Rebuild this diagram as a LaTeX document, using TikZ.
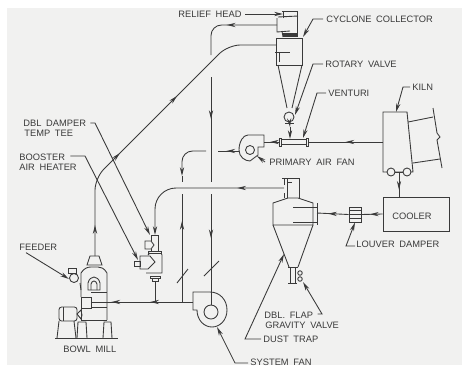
\documentclass[tikz,border=0pt]{standalone}
\usepackage{fontspec}
\setmainfont[WordSpace=1.8]{Liberation Sans}
\usepackage{xcolor}
\usetikzlibrary{positioning,arrows.meta,calc,decorations.markings}

\definecolor{paper}{HTML}{F1F1F0}
\definecolor{ink}{HTML}{3A3A3A}

\begin{document}
\begin{tikzpicture}[x=.02cm, y=-.02cm, >={Stealth[length=5pt,width=2.4pt]},
    line width=.5pt, color=ink,
    lbl/.style={text=ink, font=\fontsize{5.3}{6}\selectfont, anchor=west, inner sep=0pt},
    wheel/.style={draw, circle, inner sep=0pt},
    leader/.style={->},
    flowmark/.style={postaction={decorate, decoration={markings, mark=at position #1 with {\arrow{>}}}}}]
  \fill[white] (0,0) rectangle (462,365);
  \fill[paper] (7,8) rectangle (462,365);
  \clip (0,0) rectangle (462,365);

  % cyclone and relief head
  \draw (283,18) -- (283,11) -- (297,11) -- (297,35) (282,11) -- (298,11);
  \draw (278,17) -- (298,16) (277,18) -- (277,32) -- (290,31) (282,31) -- (283,37);
  \fill (283,33) rectangle (298,37);
  \draw (276,38) -- (302,38) -- (302,65) -- (276,65) -- cycle;
  \draw (275,52) -- (290,52) (279,52) -- (279,62);
  \draw (278,65) -- (287,108) (302,65) -- (292,108);
  \coordinate (cycout) at (277,25);
  \coordinate (cycin) at (276,45);
  \coordinate (relief) at (283,14);
  \coordinate (cyctop) at (303,37);

  % rotary valve, venturi
  \node[wheel, minimum size=.2cm] (rotary) at (289,117) {};
  \draw (285,123) -- (294,123);
  \draw (279,138) rectangle (281,146) (306,138) rectangle (308,146);
  \draw (281,139.5) -- (306,139.5) (281,144.5) -- (306,144.5);
  \coordinate (ventop) at (290,139);
  \coordinate (venl) at (279,142);
  \coordinate (venr) at (308,142);
  \coordinate (venlead) at (303,138);
  \draw[->] (rotary) -- (290,127);
  \draw[->] (290,127) -- (ventop);

  % primary air fan
  \draw (258,155) -- (258,147) -- (264,147) -- (264,135) -- (248,135)
        .. controls (243,135) and (239,142) .. (239,150)
        .. controls (239,157) and (245,161) .. (250,161) -- (258,155);
  \node[wheel, minimum size=.18cm] (pafan) at (250,150) {};
  \coordinate (pafanin) at (264,142);
  \coordinate (pafanout) at (239,151);

  % kiln
  \draw (383,172) -- (383,112) -- (407,112) -- (413,172) -- cycle;
  \draw (408,122) -- (433,117) (413,163) -- (440,159);
  \draw (433,108) -- (437,133) -- (440,137) -- (437,140) -- (442,168);
  \node[wheel, fill=paper, minimum size=.16cm] (kilna) at (391,172) {};
  \node[wheel, fill=paper, minimum size=.16cm] (kilnb) at (407,172) {};
  \draw (kilna) -- (kilnb);
  \coordinate (kilnout) at (383,142);
  \coordinate (kilnhood) at (399,172);
  \coordinate (kilntop) at (396,112);

  % cooler, louver damper
  \node[draw, minimum width=1.32cm, minimum height=.68cm, inner sep=0pt] (cooler) at (416,214) {};
  \node[lbl, anchor=center] (coolertxt) at (412,216) {COOLER};
  \node[draw, minimum width=.24cm, minimum height=.3cm, inner sep=0pt] (louver) at (355,214.5) {};
  \draw (349,210.5) -- (361,210.5) (349,214) -- (361,214) (349,218) -- (361,218);

  % dust trap
  \draw (284,185) -- (284,178) -- (299,178) -- (299,198) (282,178) -- (290,178);
  \draw (284,193) -- (284,198) (287,178) -- (287,198) (287,182) -- (292,182);
  \draw (273,225) -- (273,203) -- (288,198) -- (298,198) -- (313,203) -- (313,225) -- cycle;
  \draw (273,225) -- (289,267) (313,225) -- (298,267);
  \draw (293,207) -- (317,207) (293,222) -- (317,222) (317,203) -- (317,225);
  \draw (288,267) -- (298,267) (288,283) -- (297,283) (290,267) -- (290,283) (295,267) -- (295,283);
  \node[wheel, minimum size=.09cm] (flapa) at (300,273) {};
  \node[wheel, minimum size=.09cm] (flapb) at (300,279) {};
  \coordinate (trapin) at (317,213);
  \coordinate (trapout) at (284,188);
  \coordinate (trapside) at (284,254);
  \coordinate (flaptip) at (303,282);

  % booster heater and temp tee
  \draw (151,241) -- (151,235) -- (158,235) -- (158,251);
  \draw (145,241) -- (151,241) -- (154,245) -- (151,249) -- (145,249) -- cycle;
  \draw (151,249) -- (151,251) (148,251) rectangle (161,253);
  \draw (148,255) -- (150,253) (161,253) -- (162,255) -- (162,273) -- (146,273);
  \draw (140,256) -- (150,256) -- (155,262) -- (148,269) -- (140,269) -- cycle;
  \draw (134,261) rectangle (140,266);
  \draw (150,276) rectangle (160,278) (152,278) rectangle (158,281);
  \coordinate (teein) at (155,235);
  \coordinate (teeside) at (150,235);
  \coordinate (heatside) at (138,260);
  \coordinate (heatbot) at (155,281);

  % bowl mill
  \draw (87,265) -- (90,256) -- (99,256) -- (102,265) -- cycle;
  \draw (81,297) -- (81,273) .. controls (84,268) and (88,267) .. (91,267) -- (98,267)
        .. controls (101,267) and (104,268) .. (107,273) -- (107,320);
  \draw (91,292) -- (107,292) (91,307) -- (107,307) (81,320) -- (107,320) (81,308) -- (81,320);
  \draw (88,290) -- (88,283) .. controls (90,275) and (98,275) .. (100,283) -- (100,290) -- cycle;
  \draw (91,290) -- (91,284) .. controls (92,280) and (96,280) .. (97,284) -- (97,290);
  \draw (81,297) rectangle (91,308);
  \draw[rounded corners=1.5pt] (59,307) rectangle (77,321);
  \draw (63,307) -- (63,321);
  \draw (77,314) -- (81,310) -- (82,315) -- (81,319) -- cycle;
  \draw (59,321) -- (57,338) (74,321) -- (76,338);
  \draw (77,338) -- (78,322) -- (86,322) -- (87,338) (103,338) -- (104,322) -- (111,322) -- (112,338);
  \draw (55,338) -- (118,338);
  \draw (68,268) rectangle (76,273);
  \node[wheel, minimum size=.18cm] (feed) at (74,278) {};
  \draw (80,283) -- (81,290);
  \coordinate (milltop) at (95,256);
  \coordinate (millin) at (91,302);
  \coordinate (feedtip) at (69,279);

  % system fan
  \draw (193,310) -- (193,292) -- (210,292)
        .. controls (220,292) and (227,300) .. (227,310)
        .. controls (227,320) and (220,327) .. (212,327)
        .. controls (204,327) and (197,320) .. (197,310) -- cycle;
  \node[wheel, minimum size=.28cm] (sysfan) at (211,312) {};
  \coordinate (fanout) at (193,302);
  \coordinate (fanleft) at (182,302);
  \coordinate (tee) at (155,302);
  \coordinate (fantip) at (217,327);

  % ducts
  \draw[rounded corners=6pt, flowmark=.55] (cycout) -- (211,25) -- (211,55);
  \draw[flowmark=.4] (211,77) -- (211,182);
  \draw[flowmark=.4] (211,194) -- (sysfan.north);
  \draw[rounded corners=7pt, flowmark=.1, flowmark=.36, flowmark=.62] (milltop) -- (95,178) -- (228,45) -- (cycin);
  \draw[flowmark=.6] (pafanin -| venl) -- (pafanin);
  \draw[flowmark=.5] (kilnout) -- (venr);
  \draw[flowmark=.6] (pafanout) -- (218,151);
  \draw[rounded corners=6pt, ->] (206,151) -- (182,151) -- (182,176);
  \draw (182,176) -- (182,182);
  \draw[flowmark=.75] (fanleft) -- (182,194);
  \draw[flowmark=.42, flowmark=.8] (fanout) -- (millin);
  \draw (tee) -- (heatbot);
  \draw[rounded corners=12pt, flowmark=.28, ->] (trapout) -- (155,188) -- (teein);
  \draw[flowmark=.72] (kilnhood) -- (cooler.north -| kilnhood);
  \draw[flowmark=.6] (cooler.west) -- (louver.east);
  \draw[flowmark=.65] (louver.west) -- (trapin);
  \draw (177,283) -- (188,269) (204,276) -- (219,261);

  % labels
  \node[lbl] (relieftxt) at (178,14) {RELIEF HEAD};
  \node[lbl] (cyctxt) at (326,19) {CYCLONE COLLECTOR};
  \node[lbl] (rottxt) at (325,64) {ROTARY VALVE};
  \node[lbl] (ventxt) at (328,93) {VENTURI};
  \node[lbl] (kilntxt) at (412,87) {KILN};
  \node[lbl] (fantxt) at (269,162) {PRIMARY AIR FAN};
  \node[lbl] (louvtxt) at (356,244) {LOUVER DAMPER};
  \node[lbl] (flaptxt) at (264,315) {DBL. FLAP};
  \node[lbl] (gravtxt) at (265,325) {GRAVITY VALVE};
  \node[lbl] (trapttxt) at (263,339) {DUST TRAP};
  \node[lbl] (systxt) at (250,362) {SYSTEM FAN};
  \node[lbl] (milltxt) at (63,349) {BOWL MILL};
  \node[lbl] (feedtxt) at (19,247) {FEEDER};
  \node[lbl] (dmptxt) at (23,123) {DBL DAMPER};
  \node[lbl] (teetxt) at (24,133) {TEMP TEE};
  \node[lbl] (boosttxt) at (19,157) {BOOSTER};
  \node[lbl] (heattxt) at (19,167) {AIR HEATER};

  \draw[leader] (relieftxt.east)++(3,0) -- (relief);
  \draw[leader] (cyctxt.west)++(-3,0) -- (313,19) -- (cyctop);
  \draw[leader] (rottxt.west)++(-2,0) -- (313,64) -- (295,115);
  \draw[leader] (ventxt.west)++(-2,0) -- (317,93) -- (venlead);
  \draw[leader] (kilntxt.west)++(-2,0) -- (403,87) -- (kilntop);
  \draw[leader] (fantxt.west)++(-4,0) -- (257,156);
  \draw[leader] (louvtxt.west)++(-1,2) -- (346,246) -- (louver.south);
  \draw[leader] (flaptxt.east)++(4,-1) -- (322,314) -- (flaptip);
  \draw[leader] (trapttxt.west)++(-2,0) -- (245,339) -- (trapside);
  \draw[leader] (systxt.west)++(-2,1) -- (235,363) -- (fantip);
  \draw[leader] (feedtxt.south west)++(7,2) -- (feedtip);
  \draw[leader] (dmptxt.east)++(4,0) -- (95,123) -- (teeside);
  \draw[leader] (boosttxt.east)++(5,-1) -- (85,156) -- (heatside);
\end{tikzpicture}
\end{document}
